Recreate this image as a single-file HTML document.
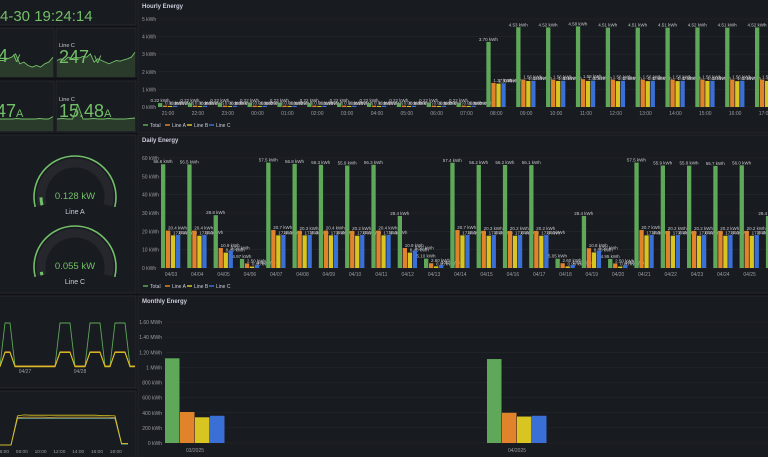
<!DOCTYPE html>
<html><head><meta charset="utf-8">
<style>
html,body{margin:0;padding:0;background:#111217;width:768px;height:457px;overflow:hidden;font-family:"Liberation Sans",sans-serif;}
svg{display:block}
</style></head>
<body>
<svg id="dash" width="768" height="457" viewBox="0 0 768 457" xmlns="http://www.w3.org/2000/svg" font-family="Liberation Sans, sans-serif">
<rect x="0" y="0" width="768" height="457" fill="#111217"/>
<rect x="-2" y="-2" width="138" height="27" fill="#181b1f" stroke="#24272c"/>
<text x="0" y="21" font-size="15" fill="#73bf69">4-30 19:24:14</text>
<rect x="-2" y="28" width="56" height="49" fill="#181b1f" stroke="#24272c"/>
<rect x="56" y="28" width="80" height="49" fill="#181b1f" stroke="#24272c"/>
<rect x="-2" y="81" width="56" height="51" fill="#181b1f" stroke="#24272c"/>
<rect x="56" y="81" width="80" height="51" fill="#181b1f" stroke="#24272c"/>
<g id="sparks"></g>
<text x="-2" y="62" font-size="18" fill="#73bf69">4 <tspan font-size="11">V</tspan></text>
<text x="59" y="47" font-size="5.5" fill="#ccccdc">Line C</text>
<text x="59" y="63" font-size="18" fill="#73bf69">247 <tspan font-size="11">V</tspan></text>
<text x="-4" y="117" font-size="18" fill="#73bf69">47<tspan font-size="11">A</tspan></text>
<text x="59" y="101" font-size="5.5" fill="#ccccdc">Line C</text>
<text x="59" y="117" font-size="18" fill="#73bf69">15.48<tspan font-size="11">A</tspan></text>

<rect x="-2" y="135" width="138" height="158" fill="#181b1f" stroke="#24272c"/>
<g id="gauges"></g>

<rect x="-2" y="296" width="138" height="92" fill="#181b1f" stroke="#24272c"/>
<g id="hist1"></g>
<rect x="-2" y="391" width="138" height="70" fill="#181b1f" stroke="#24272c"/>
<g id="hist2"></g>

<rect x="138" y="-2" width="634" height="135" fill="#181b1f" stroke="#24272c"/>
<text x="142" y="8" font-size="6" fill="#ccccdc" font-weight="bold">Hourly Energy</text>
<g id="hourly"></g>
<rect x="138" y="135" width="634" height="158" fill="#181b1f" stroke="#24272c"/>
<text x="142" y="142" font-size="6" fill="#ccccdc" font-weight="bold">Daily Energy</text>
<g id="daily"></g>
<rect x="138" y="296" width="634" height="165" fill="#181b1f" stroke="#24272c"/>
<text x="142" y="303" font-size="6" fill="#ccccdc" font-weight="bold">Monthly Energy</text>
<g id="monthly"></g>
</svg>
<script>
const colors = ['#5fa85a','#e0832a','#d9c521','#3a6fd6'];
const seriesNames = ['Total','Line A','Line B','Line C'];

const hourCats = ['21:00','22:00','23:00','00:00','01:00','02:00','03:00','04:00','05:00','06:00','07:00','08:00','09:00','10:00','11:00','12:00','13:00','14:00','15:00','16:00','17:00'];
const hourTotal = [0.22,0.22,0.22,0.22,0.23,0.22,0.22,0.22,0.22,0.22,0.22,3.70,4.53,4.52,4.58,4.51,4.51,4.51,4.52,4.51,4.52];
const hourA = [0.08,0.08,0.08,0.08,0.08,0.08,0.08,0.08,0.08,0.08,0.08,1.37,1.56,1.56,1.58,1.56,1.56,1.56,1.56,1.56,1.56];
const hourB = [0.06,0.06,0.06,0.06,0.06,0.06,0.06,0.06,0.06,0.06,0.06,1.33,1.48,1.48,1.48,1.47,1.47,1.47,1.48,1.47,1.48];
const hourC = [0.07,0.07,0.07,0.07,0.07,0.07,0.07,0.07,0.07,0.07,0.07,1.35,1.49,1.49,1.50,1.49,1.49,1.49,1.49,1.49,1.49];
const hourTicks = [0,1,2,3,4,5];

const dayCats = ['04/03','04/04','04/05','04/06','04/07','04/08','04/09','04/10','04/11','04/12','04/13','04/14','04/15','04/16','04/17','04/18','04/19','04/20','04/21','04/22','04/23','04/24','04/25','04/26'];
const dayTotal = [56.6,56.5,28.8,4.97,57.5,56.8,56.3,55.9,56.3,28.4,5.10,57.4,56.2,56.2,56.1,5.05,28.4,4.95,57.5,55.9,55.8,55.7,56.0,28.4];
const dayA = [20.4,20.4,10.9,2.5,20.7,20.3,20.4,20.2,20.4,10.9,2.6,20.7,20.3,20.2,20.2,2.6,10.8,2.5,20.7,20.2,20.2,20.2,20.2,10.9];
const dayB = [17.8,17.6,8.4,0.8,17.8,17.8,17.8,17.6,17.8,8.4,0.9,17.8,17.6,17.6,17.6,0.9,8.5,0.8,17.8,17.6,17.6,17.6,17.6,8.4];
const dayC = [18.0,18.0,9.5,1.6,18.0,18.0,18.0,18.0,18.0,9.5,1.6,18.0,18.0,18.0,18.0,1.6,9.5,1.6,18.0,18.0,18.0,18.0,18.0,9.5];
const dayTicks = [0,10,20,30,40,50,60];

const monthCats = ['03/2025','04/2025'];
const monthTotal = [1.12,1.11];
const monthA = [0.41,0.40];
const monthB = [0.34,0.35];
const monthC = [0.36,0.36];
const monthTicks = [0,0.2,0.4,0.6,0.8,1.0,1.2,1.4,1.6];
const monthTickLabels = ['0 kWh','200 kWh','400 kWh','600 kWh','800 kWh','1 MWh','1.20 MWh','1.40 MWh','1.60 MWh'];

const histDays = ['04/27','04/28'];
const histTotal = [0,1,1,0,0,0,0,0,0,0,0,0,1,1,1,0,0,0,1,1,1,0,0,1,1,1,0,0];
const histLine = [0,0.33,0.33,0,0,0,0,0,0,0,0,0,0.33,0.33,0.33,0,0,0,0.33,0.33,0.33,0,0,0.33,0.33,0.33,0,0];
const todayTicks = ['06:00','08:00','10:00','12:00','14:00','16:00','18:00'];
const todayA = [0,0,0,0.88,0.9,0.9,0.9,0.9,0.89,0.9,0.9,0.9,0.9,0.9,0.9,0.9,0.9,0.9,0.88,0.05,0.05];
const todayB = [0,0,0,0.94,0.97,0.96,0.96,0.96,0.96,0.96,0.96,0.96,0.96,0.96,0.96,0.96,0.95,0.95,0.94,0.05,0.05];
const todayC = [0,0,0,0.85,0.86,0.86,0.86,0.86,0.86,0.86,0.86,0.86,0.86,0.86,0.86,0.86,0.86,0.86,0.85,0.03,0.03];

const voltC = [0.5,0.55,0.5,0.6,0.55,0.6,0.58,0.62,0.6,0.7,0.45,0.55,0.5,0.45,0.4,0.45,0.5,0.48,0.52,0.55,0.6,0.75];
const voltA = [0.5,0.5,0.55,0.6,0.7,0.4,0.45,0.35,0.3,0.35,0.3,0.4,0.45,0.6];
const currA = [0.25,0.25,0.25,0.25,0.26,0.25,0.25,0.25,0.25,0.26,0.25,0.25,0.3];
const currC = [0.25,0.26,0.25,0.25,0.55,0.25,0.25,0.26,0.25,0.25,0.26,0.25,0.25,0.25,0.26,0.27];

const gaugeValues = [0.128,0.055];
const gaugeMax = 2;
const gaugeLabels = ['Line A','Line C'];

const NS='http://www.w3.org/2000/svg';
function mk(parent,tag,attrs){const e=document.createElementNS(NS,tag);for(const k in attrs)e.setAttribute(k,attrs[k]);parent.appendChild(e);return e;}

function barChart(gid,cats,series,ticks,tickLabels,y0,yTop,vMax,x0,step,labelFmt,xLabelY,legendY,gridX0){
  const g=document.getElementById(gid);
  const y=v=>y0-(v/vMax)*(y0-yTop);
  ticks.forEach((t,i)=>{
    const gl=mk(g,'line',{x1:gridX0,x2:768,y1:y(t),y2:y(t),stroke:'#26292e','stroke-width':0.6});
    
    
    const tl=mk(g,'text',{x:142,y:y(t)+2,'font-size':5,fill:'#9a9ca3'});
    
    
    tl.textContent=tickLabels[i];
  });
  cats.forEach((c,i)=>{
    const cx=x0+i*step;
    const xl=mk(g,'text',{x:cx,y:xLabelY,'font-size':5,fill:'#9a9ca3','text-anchor':'middle'});
    
    
    xl.textContent=c;
    series.forEach((s,k)=>{
      const v=s[i];
      const bx=cx-10+k*5;
      const r=mk(g,'rect',{x:bx,y:y(v),width:4.3,height:y0-y(v),fill:colors[k]});
      
      
      const vl=mk(g,'text',{x:bx+2,y:y(v)-1,'font-size':4.5,fill:'#c8c8cc','text-anchor':k==0?'middle':'start'});
      
      
      vl.textContent=labelFmt(v);
    });
  });
  legend(g,legendY);
}
function legend(g,ly){
  const xs=[143,165,187,209];
  seriesNames.forEach((n,k)=>{
    const l=mk(g,'line',{x1:xs[k],x2:xs[k]+5,y1:ly,y2:ly,stroke:colors[k],'stroke-width':1.5});
    
    
    const t=mk(g,'text',{x:xs[k]+7,y:ly+1.8,'font-size':5,fill:'#ccccdc'});
    
    
    t.textContent=n;
  });
}

barChart('hourly',hourCats,[hourTotal,hourA,hourB,hourC],hourTicks,hourTicks.map(t=>t+' kWh'),107,19,5,168,29.85,v=>v.toFixed(2)+' kWh',115,125,158);
barChart('daily',dayCats,[dayTotal,dayA,dayB,dayC],dayTicks,dayTicks.map(t=>t+' kWh'),268,158,60,171,26.3,v=>(v<10?v.toFixed(2):v.toFixed(1))+' kWh',276,286,158);

(function(){
  const g=document.getElementById('monthly');
  const y0=443,yTop=322,vMax=1.6;
  const y=v=>y0-(v/vMax)*(y0-yTop);
  monthTicks.forEach((t,i)=>{
    const gl=mk(g,'line',{x1:166,x2:768,y1:y(t),y2:y(t),stroke:'#26292e','stroke-width':0.6});
    
    
    const tl=mk(g,'text',{x:162,y:y(t)+2,'font-size':5,fill:'#9a9ca3','text-anchor':'end'});
    
    
    tl.textContent=monthTickLabels[i];
  });
  const ser=[monthTotal,monthA,monthB,monthC];
  monthCats.forEach((c,i)=>{
    const cx=195+i*322;
    const xl=mk(g,'text',{x:cx,y:452,'font-size':5,fill:'#9a9ca3','text-anchor':'middle'});
    
    
    xl.textContent=c;
    ser.forEach((s,k)=>{
      const r=mk(g,'rect',{x:cx-30+k*15,y:y(s[i]),width:14.5,height:y0-y(s[i]),fill:colors[k]});
      
      
    });
  });
})();

(function(){
  const g=document.getElementById('sparks');
  function spark(arr,x0,x1,yb,h){
    const pts=arr.map((v,i)=>[x0+i*(x1-x0)/(arr.length-1),yb-v*h]);
    const d='M'+pts.map(p=>p[0].toFixed(1)+','+p[1].toFixed(1)).join('L');
    const a=mk(g,'path',{d:d+'L'+x1+','+yb+'L'+x0+','+yb+'Z',fill:'#2a3b2b'});
    
    
    const l=mk(g,'path',{d:d,fill:'none',stroke:'#73bf69','stroke-width':0.9});
    
    
  }
  spark(voltA,-1,53,77,33);
  spark(voltC,57,135,77,33);
  spark(currA,-1,53,131,48);
  spark(currC,57,135,131,48);
})();

(function(){
  const g=document.getElementById('gauges');
  const cy=[197,267];
  const startDeg=166, spanDeg=208;
  gaugeValues.forEach((v,i)=>{
    const cx=75,c=cy[i];
    function arc(f0,f1,rr){
      const p=f=>{const a=(startDeg+f*spanDeg)*Math.PI/180;return [cx+rr*Math.cos(a),c+rr*Math.sin(a)];};
      const A=p(f0),B=p(f1);
      return 'M'+A[0].toFixed(2)+','+A[1].toFixed(2)+' A'+rr+','+rr+' 0 '+((f1-f0)*spanDeg>180?1:0)+' 1 '+B[0].toFixed(2)+','+B[1].toFixed(2);
    }
    const bg=mk(g,'path',{d:arc(0,1,34),fill:'none',stroke:'#25272c','stroke-width':9});
    
    
    const fill=mk(g,'path',{d:arc(0,Math.max(v/gaugeMax,0.02),34),fill:'none',stroke:'#73bf69','stroke-width':3});
    
    
    const th=mk(g,'path',{d:arc(0,1,41),fill:'none',stroke:'#73bf69','stroke-width':1.6});
    
    
    const t=mk(g,'text',{x:cx,y:c+2,'font-size':9.5,fill:'#73bf69','text-anchor':'middle'});
    
    
    t.textContent=v.toFixed(3)+' kW';
    const l=mk(g,'text',{x:cx,y:c+17,'font-size':7,fill:'#ccccdc','text-anchor':'middle'});
    
    
    l.textContent=gaugeLabels[i];
  });
})();

(function(){
  const g=document.getElementById('hist1');
  const yb=366, h=43;
  [[histTotal,'#5fa85a',0],[histLine,'#e0a030',0],[histLine,'#d9c521',0.8]].forEach(([arr,col,off])=>{
    let d='';
    arr.forEach((v,i)=>{const x=i*5;const yy=yb-v*h+off;d+=(i?'L':'M')+x.toFixed(1)+','+yy.toFixed(1);});
    const p=mk(g,'path',{d:d,fill:'none',stroke:col,'stroke-width':0.9,'stroke-linejoin':'round'});
    
    
  });
  histDays.forEach((dLab,i)=>{
    const t=mk(g,'text',{x:25+i*55,y:373,'font-size':5,fill:'#9a9ca3','text-anchor':'middle'});
    
    
    t.textContent=dLab;
  });
  const g2=document.getElementById('hist2');
  const yb2=445,h2=31;
  [[todayC,'#6fb0a0'],[todayA,'#e0a030'],[todayB,'#d9c521']].forEach(([arr,col])=>{
    let d='';
    arr.forEach((v,i)=>{const x=-2+i*(130/(arr.length-1));d+=(i?'L':'M')+x.toFixed(1)+','+(yb2-v*h2).toFixed(1);});
    const p=mk(g2,'path',{d:d,fill:'none',stroke:col,'stroke-width':0.8});
    
    
  });
  todayTicks.forEach((tk,i)=>{
    const t=mk(g2,'text',{x:3+i*18.8,y:453,'font-size':4.8,fill:'#9a9ca3','text-anchor':'middle'});
    
    
    t.textContent=tk;
  });
})();
</script>
</body></html>
